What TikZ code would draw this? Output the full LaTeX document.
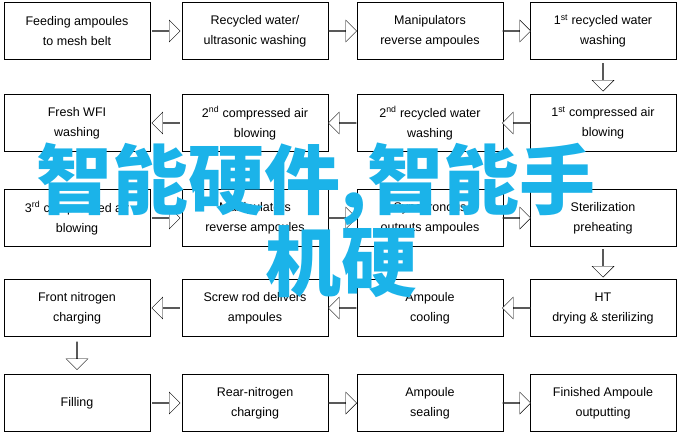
\documentclass[tikz,border=0pt]{standalone}
\usepackage{fontspec}
\setmainfont{Liberation Sans}
\newfontfamily\cjk{Noto Sans CJK SC}
\usetikzlibrary{positioning,shapes.arrows,calc}
\definecolor{overlaycyan}{HTML}{1BB3E9}
\tikzset{
  stage/.style={draw, thick, minimum width=146pt, minimum height=57pt, align=center, font=\fontsize{12.5}{20}\selectfont},
  flow/.style={single arrow, draw, thin, fill=white, minimum height=28pt, minimum width=22pt, single arrow head extend=5pt, inner sep=0pt, single arrow tip angle=90},
  toright/.style={flow},
  toleft/.style={flow, shape border rotate=180},
  todown/.style={flow, shape border rotate=270}
}
\begin{document}
\begin{tikzpicture}[x=1pt,y=-1pt]
  \useasboundingbox (0,0) rectangle (683,436);
  % Boxes, row by row
  \node[stage] (feed) at (77,31) {Feeding ampoules\\to mesh belt};
  \node[stage] (recw) at (255,31) {Recycled water/\\ultrasonic washing};
  \node[stage] (mani) at (430,31) {Manipulators\\reverse ampoules};
  \node[stage] (rec1) at (603,31) {1\textsuperscript{st} recycled water\\washing};
  \node[stage] (wfi) at (77,123) {Fresh WFI\\washing};
  \node[stage] (air2) at (255,123) {2\textsuperscript{nd} compressed air\\blowing};
  \node[stage] (rec2) at (430,123) {2\textsuperscript{nd} recycled water\\washing};
  \node[stage] (air1) at (603,123) {1\textsuperscript{st} compressed air\\blowing};
  \node[stage] (air3) at (77,218) {3\textsuperscript{rd} compressed air\\blowing};
  \node[stage] (manb) at (255,218) {Manipulators\\reverse ampoules};
  \node[stage] (sync) at (430,218) {Synchronous\\outputs ampoules};
  \node[stage] (ster) at (603,218) {Sterilization\\preheating};
  \node[stage] (nitf) at (77,308) {Front nitrogen\\charging};
  \node[stage] (screw) at (255,308) {Screw rod delivers\\ampoules};
  \node[stage] (cool) at (430,308) {Ampoule\\cooling};
  \node[stage] (ht) at (603,308) {HT\\drying \& sterilizing};
  \node[stage] (fill) at (77,403) {Filling};
  \node[stage] (nitr) at (255,403) {Rear-nitrogen\\charging};
  \node[stage] (seal) at (430,403) {Ampoule\\sealing};
  \node[stage] (fin) at (603,403) {Finished Ampoule\\outputting};
  % Hollow arrows
  \foreach \a/\b in {feed/recw, recw/mani, mani/rec1, air3/manb, manb/sync, sync/ster, fill/nitr, nitr/seal, seal/fin}
    \node[toright] at ($(\a.east)!0.5!(\b.west)$) {};
  \foreach \a/\b in {air1/rec2, rec2/air2, air2/wfi, ht/cool, cool/screw, screw/nitf}
    \node[toleft] at ($(\a.west)!0.5!(\b.east)$) {};
  \foreach \a/\b in {rec1/air1, ster/ht, nitf/fill}
    \node[todown] at ($(\a.south)!0.5!(\b.north)$) {};
  % Overlay title
  \node[text=overlaycyan, font=\cjk\bfseries\fontsize{76}{76}\selectfont] (title1) at (316,184) {智能硬件,智能手};
  \node[text=overlaycyan, font=\cjk\bfseries\fontsize{76}{76}\selectfont] (title2) at (341,262) {机硬};
\end{tikzpicture}
\end{document}
